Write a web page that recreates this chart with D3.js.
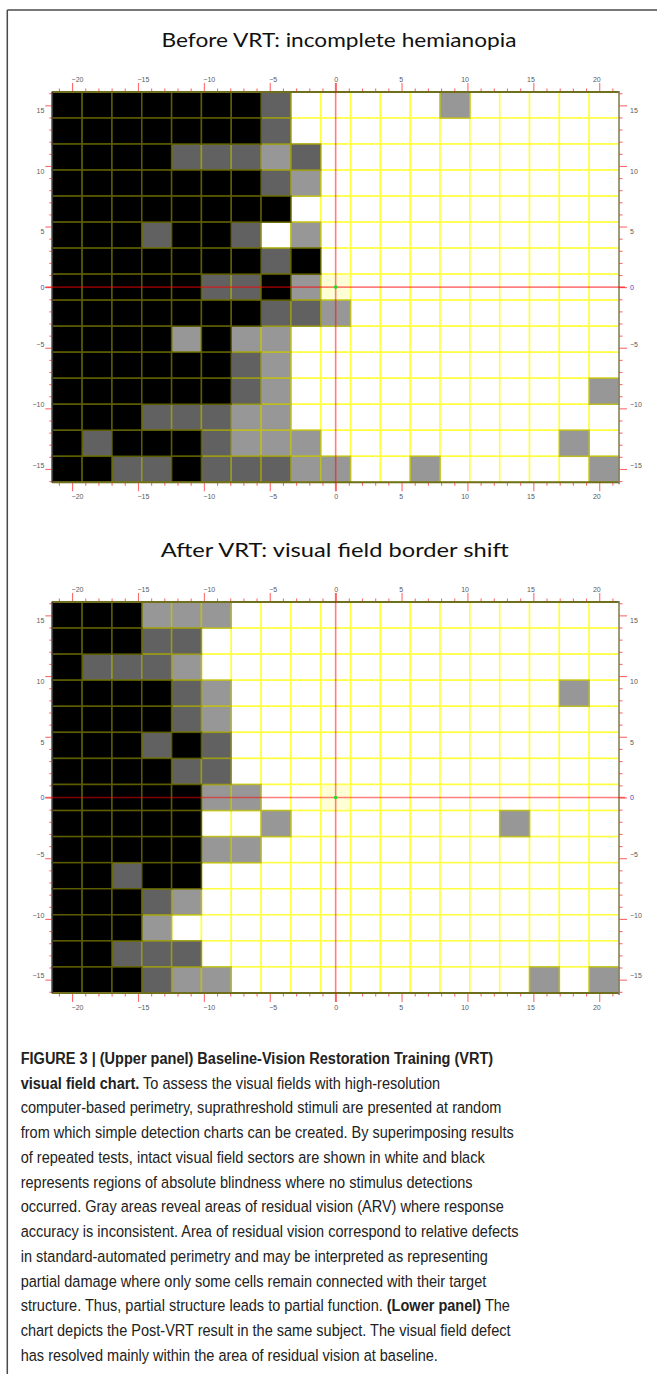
<!DOCTYPE html>
<html>
<head>
<meta charset="utf-8">
<script src="https://cdn.jsdelivr.net/npm/d3@7"></script>
<style>
  body { margin: 0; background: #fff; }
  svg { display: block; }
</style>
</head>
<body>
<div id="chart-area"></div>
<script>
// cell codes: 0 = white (intact), 1 = light gray, 2 = dark gray (residual vision), 3 = black (blind), 4 = fixation cell
const beforeRows = [
  "3333333200000100000",
  "3333333200000000000",
  "3333222120000000000",
  "3333333210000000000",
  "3333333300000000000",
  "3332332010000000000",
  "3333333230000000000",
  "3333322314000000000",
  "3333333221000000000",
  "3333131100000000000",
  "3333332100000000000",
  "3333332100000000001",
  "3332221100000000000",
  "3233321110000000010",
  "3322322211001000001"
];

const afterRows = [
  "3331110000000000000",
  "3332200000000000000",
  "3222100000000000000",
  "3333210000000000010",
  "3333210000000000000",
  "3332320000000000000",
  "3333220000000000000",
  "3333311004000000000",
  "3333300100000001000",
  "3333311000000000000",
  "3323300000000000000",
  "3332100000000000000",
  "3331000000000000000",
  "3322200000000000000",
  "3332110000000000101"
];

const xTicks = [-20, -15, -10, -5, 0, 5, 10, 15, 20];
const yTicks = [-15, -10, -5, 0, 5, 10, 15];
const xMinor = [-21, -19, -18, -17, -16, -14, -13, -12, -11, -9, -8, -7, -6, -4, -3, -2, -1,
                1, 2, 3, 4, 6, 7, 8, 9, 11, 12, 13, 14, 16, 17, 18, 19, 21];
const yMinor = [-16, -14, -13, -12, -11, -9, -8, -7, -6, -4, -3, -2, -1,
                1, 2, 3, 4, 6, 7, 8, 9, 11, 12, 13, 14, 16];

const titles = ["Before VRT: incomplete hemianopia", "After VRT: visual field border shift"];

const captionLines = [
  [["FIGURE 3 | (Upper panel) Baseline-Vision Restoration Training (VRT)", true]],
  [["visual field chart.", true], [" To assess the visual fields with high-resolution", false]],
  [["computer-based perimetry, suprathreshold stimuli are presented at random", false]],
  [["from which simple detection charts can be created. By superimposing results", false]],
  [["of repeated tests, intact visual field sectors are shown in white and black", false]],
  [["represents regions of absolute blindness where no stimulus detections", false]],
  [["occurred. Gray areas reveal areas of residual vision (ARV) where response", false]],
  [["accuracy is inconsistent. Area of residual vision correspond to relative defects", false]],
  [["in standard-automated perimetry and may be interpreted as representing", false]],
  [["partial damage where only some cells remain connected with their target", false]],
  [["structure. Thus, partial structure leads to partial function. ", false], ["(Lower panel)", true], [" The", false]],
  [["chart depicts the Post-VRT result in the same subject. The visual field defect", false]],
  [["has resolved mainly within the area of residual vision at baseline.", false]]
];

const canvasWidth = 657;
const canvasHeight = 1374;

const gridLeft = 52.3;
const gridRight = 619;
const xDomain = [-21.5, 21.5];
const yDomain = [16.1, -16.1];

const cellFill = ["#ffffff", "#979797", "#616161", "#000000", "#ffffd6"];
const tickRed = "#ff6a6a";
const labelGray = "#5a5a5a";

const panels = [
  { title: titles[0], rows: beforeRows, top: 92, bottom: 482.3, titleY: 46.5, titleX: 161.5, titleLen: 355 },
  { title: titles[1], rows: afterRows, top: 602, bottom: 993, titleY: 556.5, titleX: 160.7, titleLen: 348 }
];

const svg = d3.select("#chart-area").append("svg")
  .attr("width", canvasWidth)
  .attr("height", canvasHeight);

// page frame
svg.append("line").attr("x1", 7.3).attr("x2", canvasWidth).attr("y1", 10).attr("y2", 10)
  .attr("stroke", "#4a4a4a").attr("stroke-width", 1.5);
svg.append("line").attr("x1", 7.3).attr("x2", 7.3).attr("y1", 10).attr("y2", canvasHeight)
  .attr("stroke", "#4a4a4a").attr("stroke-width", 1.5);

const scaleX = d3.scaleLinear().domain(xDomain).range([gridLeft, gridRight]);
const colScale = d3.scaleBand().domain(d3.range(beforeRows[0].length)).range([gridLeft, gridRight]);

// grid line colour: yellow mixed into the cell's own gray level
function cellStroke(code) {
  if (code === 4) return "#ffff50";
  const v = d3.rgb(cellFill[code]).r;
  const rg = Math.round(v + (255 - v) * 0.36);
  const b = Math.round(v * 0.25);
  return d3.rgb(rg, rg, b).toString();
}

function tickLabelAnchor(v) {
  return v < 0 ? "start" : (v > 0 ? "end" : "middle");
}

panels.forEach(panel => {
  const scaleY = d3.scaleLinear().domain(yDomain).range([panel.top, panel.bottom]);
  const rowScale = d3.scaleBand().domain(d3.range(panel.rows.length)).range([panel.top, panel.bottom]);

  svg.append("text")
    .attr("x", panel.titleX)
    .attr("y", panel.titleY)
    .attr("font-family", "Lato, 'Open Sans', sans-serif")
    .attr("font-size", "20px")
    .attr("fill", "#111")
    .attr("textLength", panel.titleLen)
    .attr("lengthAdjust", "spacingAndGlyphs")
    .text(panel.title);

  const cells = [];
  panel.rows.forEach((row, r) => {
    row.split("").forEach((ch, c) => cells.push({ r: r, c: c, code: +ch }));
  });
  // light cells first so darker borders sit on top
  const order = [0, 4, 1, 2, 3];
  cells.sort((a, b) => order.indexOf(a.code) - order.indexOf(b.code));

  const chartGroup = svg.append("g");

  chartGroup.selectAll("rect.cell").data(cells).enter()
    .append("rect")
    .attr("class", "cell")
    .attr("x", d => colScale(d.c))
    .attr("y", d => rowScale(d.r))
    .attr("width", colScale.bandwidth())
    .attr("height", rowScale.bandwidth())
    .attr("fill", d => cellFill[d.code])
    .attr("stroke", d => cellStroke(d.code))
    .attr("stroke-width", 1.5);

  // minor ticks
  chartGroup.append("g").attr("transform", `translate(0, ${panel.top})`)
    .call(d3.axisTop(scaleX).tickValues(xMinor).tickSize(3.5).tickFormat(""));
  chartGroup.append("g").attr("transform", `translate(0, ${panel.bottom})`)
    .call(d3.axisBottom(scaleX).tickValues(xMinor).tickSize(3.5).tickFormat(""));
  chartGroup.append("g").attr("transform", `translate(${gridLeft}, 0)`)
    .call(d3.axisLeft(scaleY).tickValues(yMinor).tickSize(3).tickFormat(""));
  chartGroup.append("g").attr("transform", `translate(${gridRight}, 0)`)
    .call(d3.axisRight(scaleY).tickValues(yMinor).tickSize(3.5).tickFormat(""));

  // major ticks with labels
  const topAxis = chartGroup.append("g").attr("transform", `translate(0, ${panel.top})`)
    .call(d3.axisTop(scaleX).tickValues(xTicks).tickSize(9).tickPadding(1));
  const bottomAxis = chartGroup.append("g").attr("transform", `translate(0, ${panel.bottom})`)
    .call(d3.axisBottom(scaleX).tickValues(xTicks).tickSize(9).tickPadding(3));
  const leftAxis = chartGroup.append("g").attr("transform", `translate(${gridLeft}, 0)`)
    .call(d3.axisLeft(scaleY).tickValues(yTicks).tickSize(7).tickPadding(1));
  const rightAxis = chartGroup.append("g").attr("transform", `translate(${gridRight}, 0)`)
    .call(d3.axisRight(scaleY).tickValues(yTicks).tickSize(8).tickPadding(3));

  chartGroup.selectAll(".domain").remove();
  chartGroup.selectAll(".tick line").attr("stroke", tickRed).attr("stroke-width", 1.1);
  chartGroup.selectAll(".tick text")
    .attr("font-family", "'Liberation Sans', Arial, sans-serif")
    .attr("font-size", "7px")
    .attr("fill", labelGray);

  [topAxis, bottomAxis].forEach(ax => {
    ax.selectAll(".tick text")
      .attr("text-anchor", d => tickLabelAnchor(d))
      .attr("dx", d => d < 0 ? -1 : (d > 0 ? 1 : 0));
  });
  [leftAxis, rightAxis].forEach(ax => {
    ax.selectAll(".tick text")
      .attr("y", d => d > 0 ? 5 : (d < 0 ? -4 : 0))
      .attr("fill", d => d === 0 ? "#3048c8" : labelGray);
  });

  // plot border
  chartGroup.append("line")
    .attr("x1", gridLeft).attr("x2", gridRight).attr("y1", panel.top).attr("y2", panel.top)
    .attr("stroke", "#6f6f1e").attr("stroke-width", 2);
  chartGroup.append("line")
    .attr("x1", gridLeft).attr("x2", gridRight).attr("y1", panel.bottom).attr("y2", panel.bottom)
    .attr("stroke", "#6f6f1e").attr("stroke-width", 2);
  chartGroup.append("line")
    .attr("x1", gridLeft).attr("x2", gridLeft).attr("y1", panel.top).attr("y2", panel.bottom)
    .attr("stroke", "#3a3a3a").attr("stroke-width", 1.5);
  chartGroup.append("line")
    .attr("x1", gridRight).attr("x2", gridRight).attr("y1", panel.top - 1).attr("y2", panel.bottom + 2)
    .attr("stroke", "#7a7a7a").attr("stroke-width", 1.5);

  // meridians through fixation
  chartGroup.append("line")
    .attr("x1", scaleX(0)).attr("x2", scaleX(0))
    .attr("y1", panel.top - 9).attr("y2", panel.bottom + 9)
    .attr("stroke", "red").attr("stroke-opacity", 0.5).attr("stroke-width", 1.6);
  chartGroup.append("line")
    .attr("x1", gridLeft - 7).attr("x2", gridRight + 6)
    .attr("y1", scaleY(0)).attr("y2", scaleY(0))
    .attr("stroke", "red").attr("stroke-opacity", 0.5).attr("stroke-width", 1.6);

  chartGroup.append("circle")
    .attr("cx", scaleX(0)).attr("cy", scaleY(0)).attr("r", 1.8)
    .attr("fill", "#22dd22");
});

// caption, condensed horizontally like the journal's narrow sans
const captionScale = 0.855;
const caption = svg.append("text")
  .attr("transform", `scale(${captionScale}, 1)`)
  .attr("font-family", "'Liberation Sans', Arial, sans-serif")
  .attr("font-size", "17px")
  .attr("fill", "#222");

captionLines.forEach((parts, i) => {
  const line = caption.append("tspan").attr("x", 20.7 / captionScale).attr("y", 1064 + i * 24.74);
  parts.forEach(([str, bold]) => {
    line.append("tspan")
      .attr("font-weight", bold ? "bold" : "normal")
      .text(str);
  });
});
</script>
</body>
</html>
